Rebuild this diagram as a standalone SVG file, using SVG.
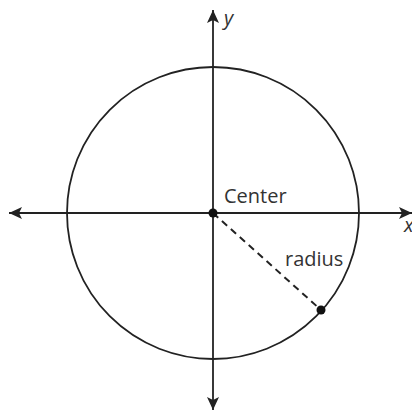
<svg xmlns="http://www.w3.org/2000/svg" width="412" height="411" viewBox="0 0 412 411">
<defs>
<style>
.ax{stroke:#222;stroke-width:1.8;fill:none}
.lbl{font-family:"Open Sans","Liberation Sans",sans-serif;font-size:20px;fill:#333}
.var{font-family:"Open Sans","Liberation Sans",sans-serif;font-size:20px;font-style:italic;fill:#333}
</style>
<marker id="ah" markerWidth="14" markerHeight="12" refX="13" refY="6" orient="auto" markerUnits="userSpaceOnUse">
<path d="M0,0 L13,6 L0,12 L3,6 Z" fill="#222"/>
</marker>
</defs>
<rect width="412" height="411" fill="#fff"/>
<g id="connectors">
<line class="ax" x1="213" y1="213" x2="9" y2="213" marker-end="url(#ah)"/>
<line class="ax" x1="213" y1="213" x2="412" y2="213" marker-end="url(#ah)"/>
<line class="ax" x1="213" y1="213" x2="213" y2="10" marker-end="url(#ah)"/>
<line class="ax" x1="213" y1="213" x2="213" y2="410" marker-end="url(#ah)"/>
<line x1="213" y1="213" x2="321" y2="310" stroke="#222" stroke-width="2" stroke-dasharray="7,5"/>
</g>
<g id="circle">
<circle cx="213" cy="213" r="146" class="ax" stroke-width="1.9"/>
</g>
<g id="center">
<circle cx="213" cy="213" r="4.5" fill="#111"/>
<text class="lbl" x="224" y="203">Center</text>
</g>
<g id="point">
<circle cx="321" cy="310" r="4.5" fill="#111"/>
</g>
<text class="lbl" x="285" y="266">radius</text>
<text class="var" x="224" y="25">y</text>
<text class="var" x="404" y="232">x</text>
</svg>
